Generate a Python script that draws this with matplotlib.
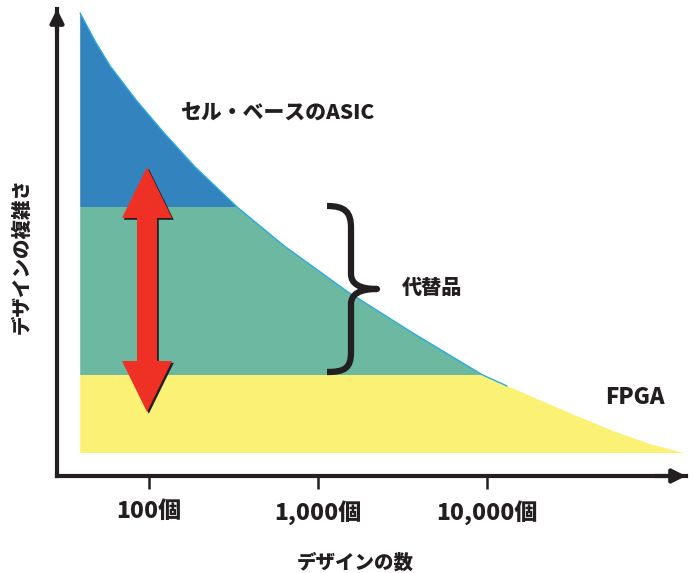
import numpy as np
import matplotlib
matplotlib.use("Agg")
import matplotlib.pyplot as plt
from matplotlib.patches import Polygon, PathPatch
from matplotlib.path import Path

plt.rcParams["font.family"] = ["Noto Sans CJK JP", "DejaVu Sans"]

# Number of designs vs. design complexity
design_counts = [39.1, 47.9, 58.8, 83.8, 121, 187, 332, 629, 1505, 3650,
                 9470, 13130, 32720, 56420, 92150, 148500]
complexity = [99.1, 93.1, 87.8, 80.5, 73.7, 66.2, 57.6, 49.3, 39.4, 30.6,
              21.6, 19.3, 13.1, 9.6, 6.85, 4.9]

# Complexity bands: FPGA / alternatives / cell-based ASIC
band_edges = [4.9, 21.6, 57.6, 100.0]
band_names = ["FPGA", "代替品", "セル・ベースのASIC"]
band_colors = ["#fbf275", "#6db8a0", "#3383be"]

tick_values = [100, 1000, 10000]
tick_labels = ["100個", "1,000個", "10,000個"]
outline_points = 12  # the cyan outline covers the first points of the curve

ink = "#231f20"
W, H = 693, 573
weight = "heavy"

fig = plt.figure(figsize=(W / 100, H / 100), dpi=100)
ax = fig.add_axes([57 / W, (H - 476) / H, (686 - 57) / W, (476 - 9) / H])
ax.set_xscale("log")
ax.set_xlim(28.5, 151000)
ax.set_ylim(0, 100)

# region under the curve, used to clip the coloured bands
verts = [(design_counts[0], band_edges[0])]
verts += list(zip(design_counts, complexity))
verts += [(design_counts[-1], band_edges[0])]
under = Polygon(verts, closed=True, transform=ax.transData,
                facecolor="none", edgecolor="none")
ax.add_patch(under)

for lo, hi, col in zip(band_edges[:-1], band_edges[1:], band_colors):
    span = ax.axhspan(lo, hi, facecolor=col, edgecolor="none", lw=0, zorder=1)
    span.set_clip_path(under)

ax.plot(design_counts[:outline_points], complexity[:outline_points],
        color="#29abe2", lw=1.0, zorder=2)

# axes: thick black lines with arrow heads
for side in ["top", "right"]:
    ax.spines[side].set_visible(False)
for side in ["left", "bottom"]:
    ax.spines[side].set_linewidth(3)
    ax.spines[side].set_color(ink)
    ax.spines[side].set_capstyle("projecting")
ax.annotate("", xy=(0, 1.0), xytext=(0, 0.95), xycoords="axes fraction",
            arrowprops=dict(arrowstyle="-|>", color=ink, lw=3,
                            mutation_scale=20, shrinkA=0, shrinkB=0),
            annotation_clip=False)
ax.annotate("", xy=(1.0, 0), xytext=(0.95, 0), xycoords="axes fraction",
            arrowprops=dict(arrowstyle="-|>", color=ink, lw=3,
                            mutation_scale=20, shrinkA=0, shrinkB=0),
            annotation_clip=False)

ax.set_xticks(tick_values)
ax.set_xticklabels(tick_labels, fontsize=16.5, fontweight=weight, color=ink)
ax.xaxis.set_minor_locator(matplotlib.ticker.NullLocator())
ax.tick_params(axis="x", direction="out", length=9.5, width=1.8,
               color=ink, pad=8)
ax.set_yticks([])

ax.set_xlabel("デザインの数", fontsize=14, fontweight=weight, color=ink)
ax.xaxis.set_label_coords((355 - 57) / (686 - 57), (476 - 563) / (476 - 9))
ax.xaxis.label.set_va("center")
ax.set_ylabel("デザインの複雑さ", fontsize=14, fontweight=weight, color=ink)
ax.yaxis.set_label_coords((22 - 57) / (686 - 57), (476 - 256) / (476 - 9))
ax.yaxis.label.set_va("center")

# overlay in pixel units for the labels, brace and double arrow
ov = fig.add_axes([0, 0, 1, 1], facecolor="none")
ov.set_xlim(0, W)
ov.set_ylim(H, 0)
ov.axis("off")

ov.text(277, 113, band_names[2], fontsize=15, fontweight=weight,
        ha="center", va="center", color=ink)
ov.text(432, 288, band_names[1], fontsize=14.5, fontweight=weight,
        ha="center", va="center", color=ink)
ov.text(635, 398, band_names[0], fontsize=16, fontweight=weight,
        ha="center", va="center", color=ink)

# curly brace
brace = Path(
    [(327, 206), (345, 206), (351, 212), (351, 228),
     (351, 274),
     (351, 284), (360, 289), (377, 289),
     (360, 289), (351, 294), (351, 304),
     (351, 352),
     (351, 368), (345, 372), (327, 372)],
    [Path.MOVETO, Path.CURVE4, Path.CURVE4, Path.CURVE4,
     Path.LINETO,
     Path.CURVE4, Path.CURVE4, Path.CURVE4,
     Path.CURVE4, Path.CURVE4, Path.CURVE4,
     Path.LINETO,
     Path.CURVE4, Path.CURVE4, Path.CURVE4])
ov.add_patch(PathPatch(brace, facecolor="none", edgecolor=ink, lw=4.5,
                       capstyle="butt", joinstyle="round"))

# red double-headed arrow with a dark drop shadow
cx, top, bot = 147, 167, 412
head_len, head_w, shaft_w = 51, 50, 20


def arrow_verts(dx=0.0, dy=0.0):
    pts = [(cx, top),
           (cx + head_w / 2, top + head_len),
           (cx + shaft_w / 2, top + head_len),
           (cx + shaft_w / 2, bot - head_len),
           (cx + head_w / 2, bot - head_len),
           (cx, bot),
           (cx - head_w / 2, bot - head_len),
           (cx - shaft_w / 2, bot - head_len),
           (cx - shaft_w / 2, top + head_len),
           (cx - head_w / 2, top + head_len)]
    return [(x + dx, y + dy) for x, y in pts]


ov.add_patch(Polygon(arrow_verts(1.8, 1.8), closed=True, facecolor=ink,
                     edgecolor="none"))
ov.add_patch(Polygon(arrow_verts(), closed=True, facecolor="#ee3124",
                     edgecolor="none"))

fig.savefig("out.png", dpi=100)
